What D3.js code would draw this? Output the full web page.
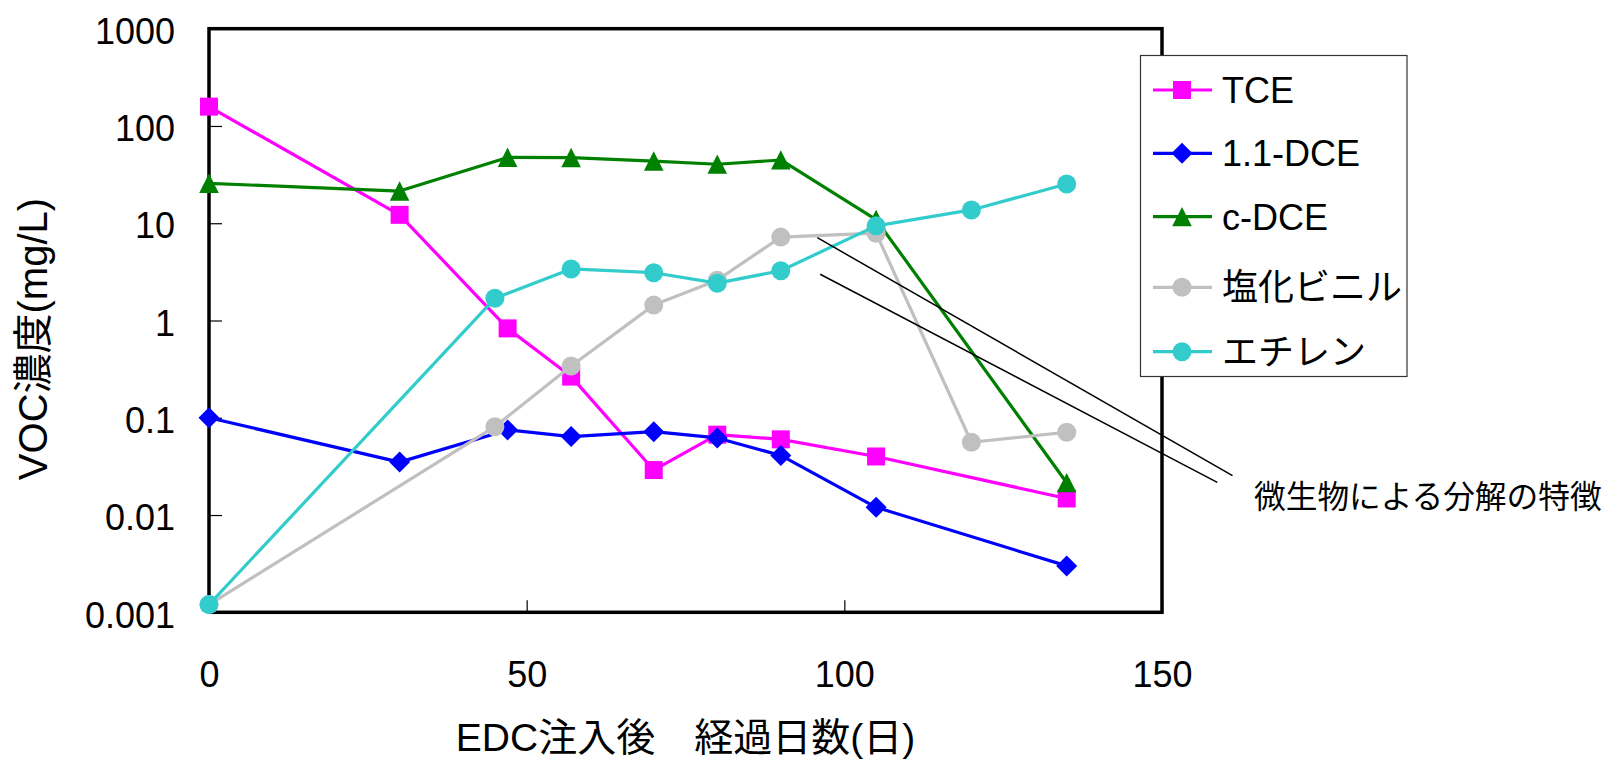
<!DOCTYPE html>
<html><head><meta charset="utf-8">
<script src="https://cdn.jsdelivr.net/npm/d3@7"></script>
<style>body{margin:0;background:#fff} svg{display:block}</style>
</head><body>
<svg id="c" width="1609" height="760"></svg>
<script>
// ---- data ----
const seriesNames = ["TCE", "1.1-DCE", "c-DCE", "塩化ビニル", "エチレン"];
const daysA = [0, 30, 47, 57, 70, 80, 90, 105, 135];
const daysB = [0, 45, 57, 70, 80, 90, 105, 120, 135];
const tceValues = [158, 12.2, 0.83, 0.265, 0.029, 0.067, 0.060, 0.040, 0.0148];
const dce11Values = [0.1, 0.035, 0.075, 0.064, 0.072, 0.062, 0.041, 0.012, 0.003];
const cdceValues = [25.7, 21.4, 47.5, 47.3, 43.6, 40.4, 44.7, 10.9, 0.0215];
const vcValues = [0.0012, 0.081, 0.34, 1.44, 2.6, 7.2, 7.9, 0.056, 0.071];
const ethyleneValues = [0.0012, 1.69, 3.39, 3.10, 2.42, 3.25, 9.4, 13.7, 25.3];
const xTicks = [0, 50, 100, 150];
const yTicks = [0.001, 0.01, 0.1, 1, 10, 100, 1000];
const xTitle = "EDC注入後　経過日数(日)";
const yTitle = "VOC濃度(mg/L)";
const noteText = "微生物による分解の特徴";
const noteLineStarts = [[95.75, 7.1], [96.2, 2.99]];
const noteLineEnds = [[161.1, 0.0254], [158.7, 0.0217]];

// ---- style / layout ----
const colors = ["#FF00FF", "#0000FF", "#008000", "#C0C0C0", "#33CCCC"];
const shapes = ["square", "diamond", "triangle", "circle", "circle"];
const seriesDays = [daysA, daysA, daysA, daysB, daysB];
const seriesVals = [tceValues, dce11Values, cdceValues, vcValues, ethyleneValues];
const W = 1609, H = 760;
const P = {l: 209, r: 1162, t: 28.7, b: 612.3};
const latin = "'Liberation Sans', Arial, 'Noto Sans CJK JP', sans-serif";

const svg = d3.select("#c");
svg.append("rect").attr("width", W).attr("height", H).attr("fill", "#fff");

const x = d3.scaleLinear().domain([0, 150]).range([P.l, P.r]);
const y = d3.scaleLog().domain([0.001, 1000]).range([P.b, P.t]);

function markerPath(shape) {
  if (shape === "square") return "M-9,-9H9V9H-9Z";
  if (shape === "diamond") return "M0,-10.5L10.5,0L0,10.5L-10.5,0Z";
  if (shape === "triangle") return "M0,-9.8L9.8,9.6L-9.8,9.6Z";
  return d3.symbol(d3.symbolCircle, Math.PI * 9.5 * 9.5)();
}

// axes
const yAxis = d3.axisLeft(y).tickValues(yTicks).tickSize(-13).tickPadding(34)
  .tickFormat(d3.format("~g"));
const gy = svg.append("g").attr("transform", `translate(${P.l},0)`).call(yAxis);
gy.select(".domain").remove();
gy.selectAll(".tick line").attr("stroke", "#000").attr("stroke-width", 1.2);
gy.selectAll(".tick text").attr("font-family", latin).attr("font-size", 36)
  .attr("fill", "#000").attr("dy", "0.41em");

const xAxis = d3.axisBottom(x).tickValues(xTicks).tickSize(-12).tickPadding(49.5)
  .tickFormat(d3.format("d"));
const gx = svg.append("g").attr("transform", `translate(0,${P.b})`).call(xAxis);
gx.select(".domain").remove();
gx.selectAll(".tick line").attr("stroke", "#000").attr("stroke-width", 1.2);
gx.selectAll(".tick text").attr("font-family", latin).attr("font-size", 36).attr("fill", "#000");

// plot border
svg.append("rect").attr("x", P.l).attr("y", P.t).attr("width", P.r - P.l).attr("height", P.b - P.t)
  .attr("fill", "none").attr("stroke", "#000").attr("stroke-width", 3.5);

// series
const line = d3.line().x(d => x(d[0])).y(d => y(d[1]));
seriesNames.forEach((name, i) => {
  const pts = seriesDays[i].map((d, j) => [d, seriesVals[i][j]]);
  const g = svg.append("g");
  g.append("path").attr("d", line(pts)).attr("fill", "none")
    .attr("stroke", colors[i]).attr("stroke-width", 3.2).attr("stroke-linejoin", "round");
  g.selectAll("path.m").data(pts).enter().append("path").attr("class", "m")
    .attr("d", markerPath(shapes[i]))
    .attr("transform", d => `translate(${x(d[0])},${y(d[1])})`)
    .attr("fill", colors[i]);
});

// annotation lines
noteLineStarts.forEach((s, i) => {
  const e = noteLineEnds[i];
  svg.append("line").attr("x1", x(s[0])).attr("y1", y(s[1]))
    .attr("x2", x(e[0])).attr("y2", y(e[1]))
    .attr("stroke", "#000").attr("stroke-width", 1.5);
});
svg.append("text").attr("x", 1254).attr("y", 508)
  .attr("font-family", "'Noto Sans CJK JP', sans-serif").attr("font-size", 31.7)
  .attr("fill", "#000").text(noteText);

// legend
const L = {x: 1140.5, y: 55.5, w: 266.5, h: 321};
const legendRowY = [90, 153.3, 216.7, 287.3, 351.7];
svg.append("rect").attr("x", L.x).attr("y", L.y).attr("width", L.w).attr("height", L.h)
  .attr("fill", "#fff").attr("stroke", "#333").attr("stroke-width", 1.2);
seriesNames.forEach((name, i) => {
  const ry = legendRowY[i];
  svg.append("line").attr("x1", 1153).attr("x2", 1212).attr("y1", ry).attr("y2", ry)
    .attr("stroke", colors[i]).attr("stroke-width", 3.2);
  svg.append("path").attr("d", markerPath(shapes[i]))
    .attr("transform", `translate(1182,${ry})`).attr("fill", colors[i]);
  svg.append("text").attr("x", 1222).attr("y", ry).attr("dy", "0.36em")
    .attr("font-family", latin).attr("font-size", 36).attr("fill", "#000").text(name);
});

// titles
svg.append("text").attr("x", (P.l + P.r) / 2).attr("y", 751).attr("text-anchor", "middle")
  .attr("font-family", latin).attr("font-size", 39).attr("fill", "#000").text(xTitle);
svg.append("text").attr("transform", "translate(47,339) rotate(-90)").attr("text-anchor", "middle")
  .attr("font-family", latin).attr("font-size", 40).attr("fill", "#000").text(yTitle);
</script>
</body></html>
